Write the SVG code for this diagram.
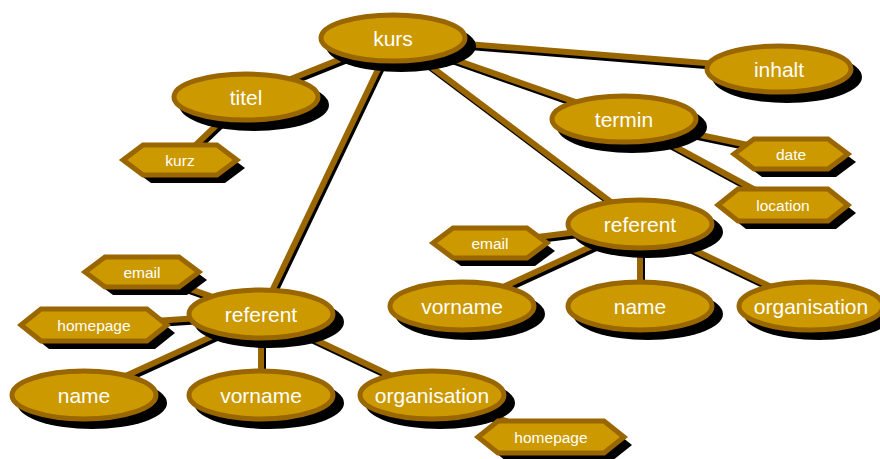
<svg xmlns="http://www.w3.org/2000/svg" width="880" height="459" viewBox="0 0 880 459">
<style>
.ln{stroke:#996600;stroke-width:6;fill:none}
.lns{stroke:#000;stroke-width:6;fill:none}
.nd{fill:#CC9900;stroke:#996600;stroke-width:5}
.sh{fill:#000}
.t{fill:#fff;font-family:"Liberation Sans",Arial,sans-serif;font-size:21px;text-anchor:middle;dominant-baseline:central}
.ts{fill:#fff;font-family:"Liberation Sans",Arial,sans-serif;font-size:15.5px;text-anchor:middle;dominant-baseline:central}
</style>
<rect width="880" height="459" fill="#fff"/>
<g id="connectors">
<g class="lns" transform="translate(2,3)">
<line x1="393" y1="38" x2="246" y2="97"/><line x1="393" y1="38" x2="779" y2="69"/><line x1="393" y1="38" x2="624" y2="119"/><line x1="393" y1="38" x2="640" y2="224"/><line x1="393" y1="38" x2="261" y2="314"/><line x1="246" y1="97" x2="180" y2="160"/><line x1="624" y1="119" x2="791" y2="154"/><line x1="624" y1="119" x2="783" y2="205"/><line x1="640" y1="224" x2="490" y2="243"/><line x1="640" y1="224" x2="462" y2="306"/><line x1="640" y1="224" x2="640" y2="306"/><line x1="640" y1="224" x2="811" y2="306"/><line x1="261" y1="314" x2="142" y2="272"/><line x1="261" y1="314" x2="94" y2="325"/><line x1="261" y1="314" x2="84" y2="395"/><line x1="261" y1="314" x2="261" y2="395"/><line x1="261" y1="314" x2="432" y2="395"/><line x1="432" y1="395" x2="551" y2="437"/>
</g>
<g class="ln">
<line x1="393" y1="38" x2="246" y2="97"/><line x1="393" y1="38" x2="779" y2="69"/><line x1="393" y1="38" x2="624" y2="119"/><line x1="393" y1="38" x2="640" y2="224"/><line x1="393" y1="38" x2="261" y2="314"/><line x1="246" y1="97" x2="180" y2="160"/><line x1="624" y1="119" x2="791" y2="154"/><line x1="624" y1="119" x2="783" y2="205"/><line x1="640" y1="224" x2="490" y2="243"/><line x1="640" y1="224" x2="462" y2="306"/><line x1="640" y1="224" x2="640" y2="306"/><line x1="640" y1="224" x2="811" y2="306"/><line x1="261" y1="314" x2="142" y2="272"/><line x1="261" y1="314" x2="94" y2="325"/><line x1="261" y1="314" x2="84" y2="395"/><line x1="261" y1="314" x2="261" y2="395"/><line x1="261" y1="314" x2="432" y2="395"/><line x1="432" y1="395" x2="551" y2="437"/>
</g>
</g>
<g id="kurs"><ellipse class="sh" cx="401" cy="46" rx="75" ry="26"/><ellipse class="nd" cx="393" cy="38" rx="72" ry="23"/><text class="t" x="393" y="38">kurs</text></g>
<g id="titel"><ellipse class="sh" cx="254" cy="105" rx="75" ry="26"/><ellipse class="nd" cx="246" cy="97" rx="72" ry="23"/><text class="t" x="246" y="97">titel</text></g>
<g id="inhalt"><ellipse class="sh" cx="787" cy="77" rx="75" ry="26"/><ellipse class="nd" cx="779" cy="69" rx="72" ry="23"/><text class="t" x="779" y="69">inhalt</text></g>
<g id="termin"><ellipse class="sh" cx="632" cy="127" rx="75" ry="26"/><ellipse class="nd" cx="624" cy="119" rx="72" ry="23"/><text class="t" x="624" y="119">termin</text></g>
<g id="referent2"><ellipse class="sh" cx="648" cy="232" rx="75" ry="26"/><ellipse class="nd" cx="640" cy="224" rx="72" ry="24"/><text class="t" x="640" y="224">referent</text></g>
<g id="vorname2"><ellipse class="sh" cx="470" cy="314" rx="75" ry="26"/><ellipse class="nd" cx="462" cy="306" rx="72" ry="24"/><text class="t" x="462" y="306">vorname</text></g>
<g id="name2"><ellipse class="sh" cx="648" cy="314" rx="75" ry="26"/><ellipse class="nd" cx="640" cy="306" rx="72" ry="24"/><text class="t" x="640" y="306">name</text></g>
<g id="organisation2"><ellipse class="sh" cx="819" cy="314" rx="75" ry="26"/><ellipse class="nd" cx="811" cy="306" rx="72" ry="24"/><text class="t" x="811" y="306">organisation</text></g>
<g id="referent1"><ellipse class="sh" cx="269" cy="322" rx="75" ry="26"/><ellipse class="nd" cx="261" cy="314" rx="72" ry="24"/><text class="t" x="261" y="314">referent</text></g>
<g id="name1"><ellipse class="sh" cx="92" cy="403" rx="75" ry="26"/><ellipse class="nd" cx="84" cy="395" rx="72" ry="24"/><text class="t" x="84" y="395">name</text></g>
<g id="vorname1"><ellipse class="sh" cx="269" cy="403" rx="75" ry="26"/><ellipse class="nd" cx="261" cy="395" rx="72" ry="24"/><text class="t" x="261" y="395">vorname</text></g>
<g id="organisation1"><ellipse class="sh" cx="440" cy="403" rx="75" ry="26"/><ellipse class="nd" cx="432" cy="395" rx="72" ry="24"/><text class="t" x="432" y="395">organisation</text></g>
<g id="kurz"><polygon class="sh" transform="translate(8,8)" points="123,160 143,145 217,145 237,160 217,175 143,175"/><polygon class="nd" points="123,160 143,145 217,145 237,160 217,175 143,175"/><text class="ts" x="180" y="160">kurz</text></g>
<g id="email1"><polygon class="sh" transform="translate(8,8)" points="85,272 105,257 179,257 199,272 179,287 105,287"/><polygon class="nd" points="85,272 105,257 179,257 199,272 179,287 105,287"/><text class="ts" x="142" y="272">email</text></g>
<g id="homepage1"><polygon class="sh" transform="translate(8,8)" points="21,325 41,309 147,309 167,325 147,341 41,341"/><polygon class="nd" points="21,325 41,309 147,309 167,325 147,341 41,341"/><text class="ts" x="94" y="325">homepage</text></g>
<g id="email2"><polygon class="sh" transform="translate(8,8)" points="433,243 453,228 527,228 547,243 527,258 453,258"/><polygon class="nd" points="433,243 453,228 527,228 547,243 527,258 453,258"/><text class="ts" x="490" y="243">email</text></g>
<g id="date"><polygon class="sh" transform="translate(8,8)" points="734,154 754,139 828,139 848,154 828,169 754,169"/><polygon class="nd" points="734,154 754,139 828,139 848,154 828,169 754,169"/><text class="ts" x="791" y="154">date</text></g>
<g id="location"><polygon class="sh" transform="translate(8,8)" points="718,205 738,189 828,189 848,205 828,221 738,221"/><polygon class="nd" points="718,205 738,189 828,189 848,205 828,221 738,221"/><text class="ts" x="783" y="205">location</text></g>
<g id="homepage2"><polygon class="sh" transform="translate(8,8)" points="478,437 498,421 604,421 624,437 604,453 498,453"/><polygon class="nd" points="478,437 498,421 604,421 624,437 604,453 498,453"/><text class="ts" x="551" y="437">homepage</text></g>
</svg>
